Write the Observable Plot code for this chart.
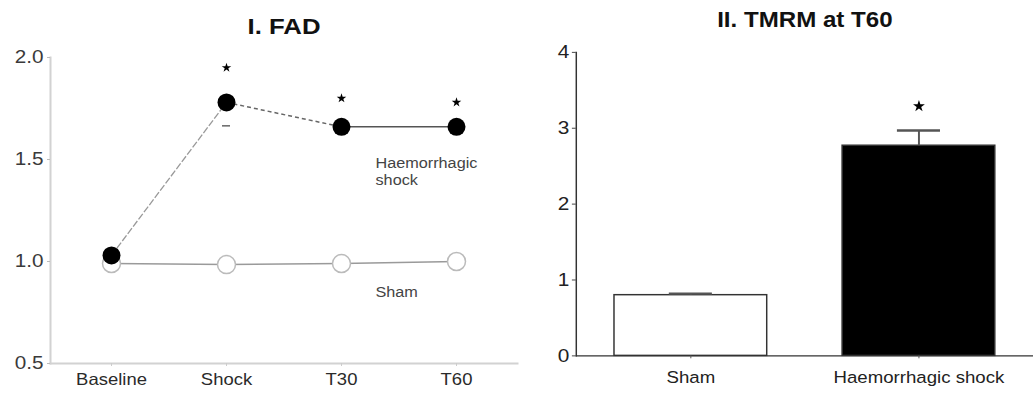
<!DOCTYPE html>
<html><head><meta charset="utf-8">
<script src="https://cdn.jsdelivr.net/npm/d3@7"></script>
<script src="https://cdn.jsdelivr.net/npm/@observablehq/plot@0.6"></script>
<style>
html,body{margin:0;padding:0;background:#fff;}
#wrap{position:relative;width:1033px;height:395px;overflow:hidden;background:#fff;}
#left,#right{position:absolute;top:0;}
#left{left:0;} #right{left:520px;}
</style></head><body><div id="wrap"><div id="left"></div><div id="right"></div></div>
<script>
// ---- Panel I: FAD ----
const categories = ["Baseline", "Shock", "T30", "T60"];
const hsMean = [1.03, 1.78, 1.66, 1.66];
const shamMean = [0.99, 0.985, 0.99, 1.0];
const hsLowerCap = [null, 1.665, null, null];
const hsSigY = [null, 1.95, 1.80, 1.78];
const seriesLabels = ["Haemorrhagic\nshock", "Sham"];
const seriesLabelY = [1.445, 0.853];
const yTicksFAD = [0.5, 1.0, 1.5, 2.0];

// ---- Panel II: TMRM at T60 ----
const tmrmGroups = ["Sham", "Haemorrhagic shock"];
const tmrmMean = [0.80, 2.77];
const tmrmSem = [0.02, 0.20];
const tmrmSig = [null, 3.29];
const tmrmFill = ["white", "black"];
const yTicksTMRM = [0, 1, 2, 3, 4];

const FONT = "'Liberation Sans', Arial, Helvetica, sans-serif";

function widen(svg, k) {
  svg.querySelectorAll("text").forEach(t => {
    const tr = t.getAttribute("transform");
    if (tr) t.setAttribute("transform", tr + ` scale(${k},1)`);
    else {
      const x = +(t.getAttribute("x") || 0), y = +(t.getAttribute("y") || 0);
      t.setAttribute("x", 0); t.setAttribute("y", 0);
      t.setAttribute("transform", `translate(${x},${y}) scale(${k},1)`);
    }
  });
}

const fad = categories.map((c, i) => ({c, hs: hsMean[i], sham: shamMean[i], cap: hsLowerCap[i], sig: hsSigY[i]}));
const segs = d3.pairs(fad).map(([a, b]) => ({x1: a.c, x2: b.c, y1: a.hs, y2: b.hs}));
const labels = seriesLabels.map((t, i) => ({t, y: seriesLabelY[i]}));

const left = Plot.plot({
  width: 520, height: 395,
  marginLeft: 50, marginRight: 3, marginTop: 57, marginBottom: 32,
  style: {fontFamily: FONT, background: "white", overflow: "visible"},
  x: {type: "point", domain: categories, padding: 0.52, label: null},
  y: {domain: [0.5, 2], label: null},
  marks: [
    Plot.frame({anchor: "left", stroke: "#d2d2d2", strokeWidth: 2}),
    Plot.frame({anchor: "bottom", stroke: "#d2d2d2", strokeWidth: 2}),
    Plot.axisY({ticks: yTicksFAD, tickFormat: d3.format(".1f"), tickSize: 3, tickPadding: 4, stroke: "#bbb", fill: "#3a3a3a", fontSize: 18.5}),
    Plot.axisX({tickSize: 3, tickPadding: 7, stroke: "#ccc", fill: "#2a2a2a", fontSize: 16.5}),
    Plot.line(fad, {x: "c", y: "sham", stroke: "#9a9a9a", strokeWidth: 1.5}),
    Plot.link(segs.slice(0, 1), {x1: "x1", x2: "x2", y1: "y1", y2: "y2", stroke: "#999", strokeWidth: 1.3, strokeDasharray: "7,2"}),
    Plot.link(segs.slice(1, 2), {x1: "x1", x2: "x2", y1: "y1", y2: "y2", stroke: "#666", strokeWidth: 1.5, strokeDasharray: "4,3"}),
    Plot.link(segs.slice(2, 3), {x1: "x1", x2: "x2", y1: "y1", y2: "y2", stroke: "#555", strokeWidth: 1.5}),
    Plot.ruleY(fad.filter(d => d.cap != null), {x1: "c", x2: "c", y: "cap", insetLeft: -4, insetRight: -4, stroke: "#666", strokeWidth: 1.5}),
    Plot.dot(fad, {x: "c", y: "sham", r: 9, fill: "white", stroke: "#bbb", strokeWidth: 1.5}),
    Plot.dot(fad, {x: "c", y: "hs", r: 9, fill: "black"}),
    Plot.dot(fad.filter(d => d.sig != null), {x: "c", y: "sig", symbol: "star", r: 3, fill: "black"}),
    Plot.text(labels, {x: () => "T30", y: "y", text: "t", dx: 34, textAnchor: "start", lineAnchor: "middle", lineHeight: 1.17, fontSize: 14.5, fill: "#444"}),
    Plot.text(["I. FAD"], {text: d => d, frameAnchor: "top", dy: -30.5, lineAnchor: "middle", fontWeight: "bold", fontSize: 23, fill: "#111"})
  ]
});
widen(left, 1.12);
document.getElementById("left").appendChild(left);

const tm = tmrmGroups.map((g, i) => ({g, m: tmrmMean[i], e: tmrmSem[i], sig: tmrmSig[i], fill: tmrmFill[i]}));

const right = Plot.plot({
  width: 524, height: 395,
  marginLeft: 57, marginRight: 0, marginTop: 53, marginBottom: 32,
  style: {fontFamily: FONT, background: "white", overflow: "visible"},
  x: {type: "band", domain: tmrmGroups, paddingInner: 0.33, paddingOuter: 0.167, label: null},
  y: {domain: [0, 4], label: null},
  marks: [
    Plot.barY(tm, {x: "g", y: "m", fill: "fill", stroke: "#333", strokeWidth: 1.5}),
    Plot.ruleX(tm, {x: "g", y1: "m", y2: d => d.m + d.e, stroke: "#555", strokeWidth: 2}),
    Plot.tickY(tm, {x: "g", y: d => d.m + d.e, insetLeft: 56, insetRight: 56, stroke: "#555", strokeWidth: 2.5}),
    Plot.ruleY([0], {stroke: "#333", strokeWidth: 1.5}),
    Plot.frame({anchor: "left", stroke: "#333", strokeWidth: 1.5}),
    Plot.axisY({ticks: yTicksTMRM, tickFormat: d3.format("d"), tickSize: 4, tickPadding: 3, fontSize: 19, fill: "#222", stroke: "#444"}),
    Plot.axisX({tickSize: 3, tickPadding: 13, fontSize: 17, fill: "#222", stroke: "#555"}),
    Plot.dot(tm.filter(d => d.sig != null), {x: "g", y: "sig", symbol: "star", r: 3.8, fill: "black"}),
    Plot.text(["II. TMRM at T60"], {text: d => d, frameAnchor: "top", dy: -32.5, lineAnchor: "middle", fontWeight: "bold", fontSize: 22, fill: "#111"})
  ]
});
widen(right, 1.12);
document.getElementById("right").appendChild(right);
</script>
</body></html>
